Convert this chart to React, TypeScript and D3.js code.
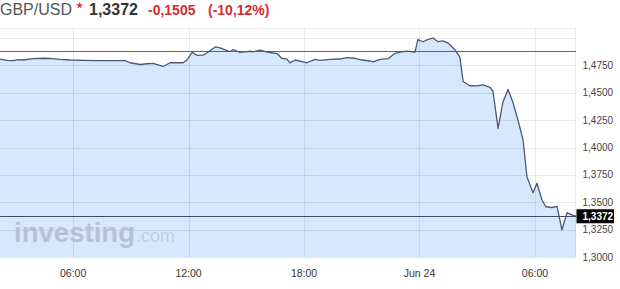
import React from "react";
import * as d3 from "d3";

const times = [
  "2016-06-23T02:12", "2016-06-23T02:34", "2016-06-23T02:53", "2016-06-23T03:09", "2016-06-23T03:24",
  "2016-06-23T03:55", "2016-06-23T04:26", "2016-06-23T04:48", "2016-06-23T05:19", "2016-06-23T05:51",
  "2016-06-23T06:31", "2016-06-23T07:24", "2016-06-23T08:05", "2016-06-23T08:42", "2016-06-23T08:58",
  "2016-06-23T09:29", "2016-06-23T09:51", "2016-06-23T10:09", "2016-06-23T10:41", "2016-06-23T11:02",
  "2016-06-23T11:43", "2016-06-23T11:55", "2016-06-23T12:11", "2016-06-23T12:26", "2016-06-23T12:45",
  "2016-06-23T13:01", "2016-06-23T13:23", "2016-06-23T13:38", "2016-06-23T14:09", "2016-06-23T14:19",
  "2016-06-23T14:40", "2016-06-23T15:12", "2016-06-23T15:21", "2016-06-23T15:43", "2016-06-23T16:05",
  "2016-06-23T16:36", "2016-06-23T16:51", "2016-06-23T17:07", "2016-06-23T17:16", "2016-06-23T17:32",
  "2016-06-23T17:57", "2016-06-23T18:09", "2016-06-23T18:34", "2016-06-23T18:50", "2016-06-23T19:21",
  "2016-06-23T19:52", "2016-06-23T20:14", "2016-06-23T20:39", "2016-06-23T21:01", "2016-06-23T21:26",
  "2016-06-23T21:35", "2016-06-23T21:57", "2016-06-23T22:22", "2016-06-23T22:44", "2016-06-23T22:59",
  "2016-06-23T23:21", "2016-06-23T23:46", "2016-06-23T23:55", "2016-06-24T00:11", "2016-06-24T00:23",
  "2016-06-24T00:42", "2016-06-24T00:58", "2016-06-24T01:13", "2016-06-24T01:29", "2016-06-24T01:51",
  "2016-06-24T02:06", "2016-06-24T02:16", "2016-06-24T02:37", "2016-06-24T02:59", "2016-06-24T03:18",
  "2016-06-24T03:40", "2016-06-24T03:49", "2016-06-24T04:05", "2016-06-24T04:20", "2016-06-24T04:36",
  "2016-06-24T04:51", "2016-06-24T05:07", "2016-06-24T05:23", "2016-06-24T05:35", "2016-06-24T05:54",
  "2016-06-24T06:06", "2016-06-24T06:22", "2016-06-24T06:34", "2016-06-24T06:53", "2016-06-24T07:09",
  "2016-06-24T07:24", "2016-06-24T07:40", "2016-06-24T07:55", "2016-06-24T08:08",
];

const prices = [
  1.4808, 1.4796, 1.4793, 1.4802, 1.4799,
  1.4811, 1.4815, 1.4813, 1.4805, 1.4799,
  1.4796, 1.4794, 1.4794, 1.4794, 1.4774,
  1.4758, 1.4765, 1.4769, 1.4740, 1.4774,
  1.4774, 1.4799, 1.4869, 1.4842, 1.4843,
  1.4872, 1.4918, 1.4909, 1.4875, 1.4895,
  1.4869, 1.4879, 1.4874, 1.4890, 1.4872,
  1.4858, 1.4813, 1.4808, 1.4773, 1.4799,
  1.4783, 1.4774, 1.4805, 1.4796, 1.4805,
  1.4808, 1.4820, 1.4815, 1.4799, 1.4790,
  1.4781, 1.4805, 1.4811, 1.4860, 1.4872,
  1.4881, 1.4872, 1.4986, 1.4966, 1.4982,
  1.5000, 1.4966, 1.4973, 1.4954, 1.4890,
  1.4826, 1.4603, 1.4564, 1.4562, 1.4571,
  1.4550, 1.4516, 1.4175, 1.4411, 1.4531,
  1.4415, 1.4251, 1.4068, 1.3733, 1.3587,
  1.3673, 1.3521, 1.3459, 1.3452, 1.3463,
  1.3247, 1.3405, 1.3384, 1.3372,
];

const yTicks = [1.3, 1.325, 1.35, 1.375, 1.4, 1.425, 1.45, 1.475, 1.5];
const yLabelTicks = [1.3, 1.325, 1.35, 1.375, 1.4, 1.425, 1.45, 1.475];
const xTicks = ["2016-06-23T06:00", "2016-06-23T12:00", "2016-06-23T18:00", "2016-06-24T00:00", "2016-06-24T06:00"];
const xTickLabels = ["06:00", "12:00", "18:00", "Jun 24", "06:00"];
const xDomain = ["2016-06-23T02:12", "2016-06-24T08:08"];

const symbolName = "GBP/USD";
const lastPrice = 1.3372;
const prevClose = 1.4877;
const changeText = "-0,1505";
const changePctText = "(-10,12%)";

const W = 620;
const H = 289;
const PLOT = { left: 0, right: 576, top: 28, bottom: 257 };
const FONT = "'Liberation Sans', Arial, Helvetica, sans-serif";

const parse = d3.timeParse("%Y-%m-%dT%H:%M");
const fmt = (v: number) => v.toFixed(4).replace(".", ",");
const crisp = (v: number) => Math.round(v) + 0.5;

export default function App() {
  const data = times.map((t, i) => ({ t: parse(t) as Date, v: prices[i] }));
  const x = d3
    .scaleTime()
    .domain(xDomain.map((d) => parse(d) as Date))
    .range([PLOT.left, PLOT.right]);
  const y = d3.scaleLinear().domain([1.3, 1.5]).range([257, 38]);

  const area = d3
    .area<{ t: Date; v: number }>()
    .x((d) => x(d.t))
    .y0(PLOT.bottom)
    .y1((d) => y(d.v));
  const line = d3
    .line<{ t: Date; v: number }>()
    .x((d) => x(d.t))
    .y((d) => y(d.v));

  const star = d3.symbol().type(d3.symbolStar).size(16)();

  return (
    <svg
      width={W}
      height={H}
      style={{ position: "absolute", left: 0, top: 0, background: "#fff" }}
      fontFamily={FONT}
    >
      <defs>
        <clipPath id="plotclip">
          <rect x={PLOT.left} y={PLOT.top} width={PLOT.right - PLOT.left} height={PLOT.bottom - PLOT.top} />
        </clipPath>
      </defs>

      {/* header */}
      <text x={0} y={15} fontSize={16} fill="#555">{symbolName}</text>
      <path d={star || ""} transform="translate(79.5,5.5)" fill="#e0353b" />
      <text x={89} y={15} fontSize={16} fontWeight="bold" fill="#333">{fmt(lastPrice)}</text>
      <text x={148} y={15} fontSize={14} fontWeight="bold" fill="#d92b31">{changeText}</text>
      <text x={208} y={15} fontSize={14} fontWeight="bold" fill="#d92b31">{changePctText}</text>

      {/* area fill */}
      <g clipPath="url(#plotclip)">
        <path d={area(data) || ""} fill="#d8e8fc" />
      </g>

      {/* grid */}
      <g stroke="#000" strokeOpacity={0.085} strokeWidth={1}>
        {yTicks.map((t) => (
          <line key={"h" + t} x1={PLOT.left} x2={PLOT.right} y1={crisp(y(t))} y2={crisp(y(t))} />
        ))}
        {xTicks.map((t) => {
          const xx = crisp(x(parse(t) as Date));
          return <line key={"v" + t} x1={xx} x2={xx} y1={PLOT.top} y2={PLOT.bottom} />;
        })}
        <line x1={PLOT.left} x2={PLOT.right} y1={PLOT.top + 0.5} y2={PLOT.top + 0.5} />
        <line x1={PLOT.right - 0.5} x2={PLOT.right - 0.5} y1={PLOT.top} y2={PLOT.bottom} />
      </g>

      {/* watermark */}
      <text x={14} y={242} fontSize={27} fontWeight="bold" fill="#b6c2d4" textLength={121} lengthAdjust="spacingAndGlyphs">
        investing
      </text>
      <text x={136} y={242} fontSize={19} fill="#c3cee0" textLength={39} lengthAdjust="spacingAndGlyphs">
        .com
      </text>

      {/* previous close line */}
      <rect x={PLOT.left} width={PLOT.right - PLOT.left} y={Math.round(y(prevClose))} height={1} fill="#c43b3b" />

      {/* series line */}
      <g clipPath="url(#plotclip)">
        <path d={line(data) || ""} fill="none" stroke="#4a5878" strokeWidth={1.3} strokeLinejoin="round" />
      </g>

      {/* current price line */}
      <line x1={PLOT.left} x2={PLOT.right} y1={crisp(y(lastPrice))} y2={crisp(y(lastPrice))} stroke="#3f4c66" strokeWidth={1} />

      {/* y axis labels */}
      {yLabelTicks.map((t) => (
        <text key={"yl" + t} x={582.5} y={y(t) + 3.5} fontSize={10} fill="#444">
          {fmt(t)}
        </text>
      ))}

      {/* current price badge */}
      <rect x={576.5} y={y(lastPrice) - 7} width={37.5} height={14} fill="#000" />
      <text x={582.5} y={y(lastPrice) + 3.5} fontSize={10} fontWeight="bold" fill="#fff">
        {fmt(lastPrice)}
      </text>

      {/* x axis labels */}
      {xTicks.map((t, i) => (
        <text key={"xl" + t} x={x(parse(t) as Date)} y={277} fontSize={10.5} fill="#333" textAnchor="middle">
          {xTickLabels[i]}
        </text>
      ))}
    </svg>
  );
}
